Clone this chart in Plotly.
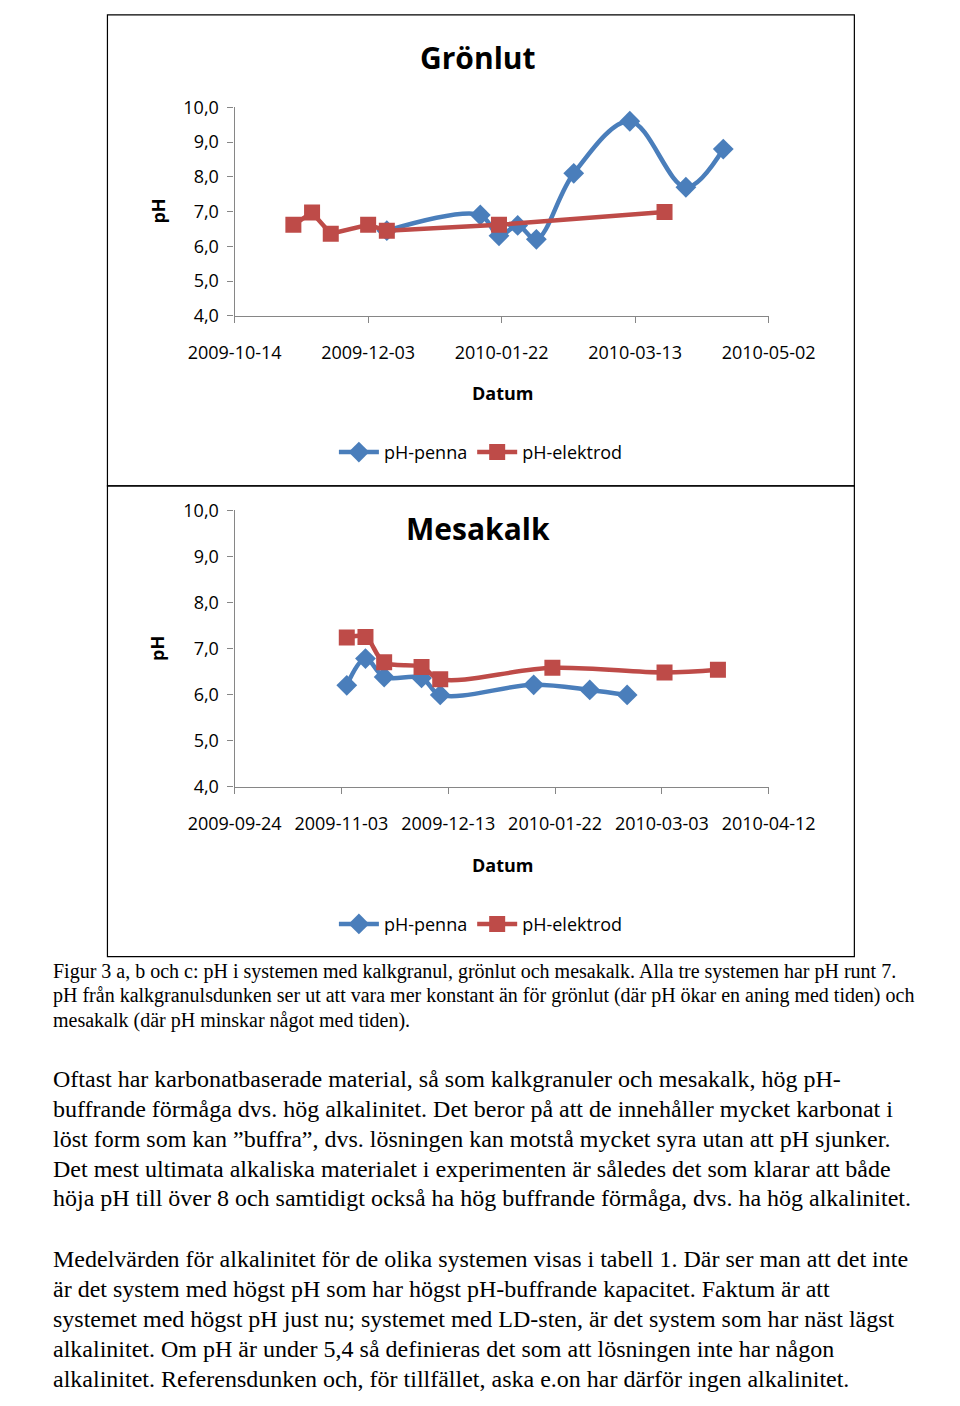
import plotly.graph_objects as go

W, H = 960, 1406

# ---------------- data ----------------
# Grönlut
gr_penna_dates = ["2009-12-10", "2010-01-14", "2010-01-21", "2010-01-28", "2010-02-04",
                  "2010-02-18", "2010-03-11", "2010-04-01", "2010-04-15"]
gr_penna_ph = [6.45, 6.90, 6.30, 6.60, 6.20, 8.10, 9.60, 7.70, 8.80]
gr_elek_dates = ["2009-11-05", "2009-11-12", "2009-11-19", "2009-12-03", "2009-12-10",
                 "2010-01-21", "2010-03-24"]
gr_elek_ph = [6.62, 6.97, 6.36, 6.62, 6.45, 6.62, 6.99]
gr_xticks = ["2009-10-14", "2009-12-03", "2010-01-22", "2010-03-13", "2010-05-02"]

# Mesakalk
me_penna_dates = ["2009-11-05", "2009-11-12", "2009-11-19", "2009-12-03", "2009-12-10",
                  "2010-01-14", "2010-02-04", "2010-02-18"]
me_penna_ph = [6.20, 6.78, 6.38, 6.36, 5.99, 6.21, 6.10, 5.99]
me_elek_dates = ["2009-11-05", "2009-11-12", "2009-11-19", "2009-12-03", "2009-12-10",
                 "2010-01-21", "2010-03-04", "2010-03-24"]
me_elek_ph = [7.24, 7.25, 6.70, 6.60, 6.33, 6.58, 6.48, 6.54]
me_xticks = ["2009-09-24", "2009-11-03", "2009-12-13", "2010-01-22", "2010-03-03", "2010-04-12"]

y_ticks = [4, 5, 6, 7, 8, 9, 10]
y_ticktext = ["4,0", "5,0", "6,0", "7,0", "8,0", "9,0", "10,0"]

caption_lines = [
    "Figur 3 a, b och c: pH i systemen med kalkgranul, grönlut och mesakalk. Alla tre systemen har pH runt 7.",
    "pH från kalkgranulsdunken ser ut att vara mer konstant än för grönlut (där pH ökar en aning med tiden) och",
    "mesakalk (där pH minskar något med tiden).",
]
body_lines = [
    "Oftast har karbonatbaserade material, så som kalkgranuler och mesakalk, hög pH-",
    "buffrande förmåga dvs. hög alkalinitet. Det beror på att de innehåller mycket karbonat i",
    "löst form som kan ”buffra”, dvs. lösningen kan motstå mycket syra utan att pH sjunker.",
    "Det mest ultimata alkaliska materialet i experimenten är således det som klarar att både",
    "höja pH till över 8 och samtidigt också ha hög buffrande förmåga, dvs. ha hög alkalinitet.",
    "",
    "Medelvärden för alkalinitet för de olika systemen visas i tabell 1. Där ser man att det inte",
    "är det system med högst pH som har högst pH-buffrande kapacitet. Faktum är att",
    "systemet med högst pH just nu; systemet med LD-sten, är det system som har näst lägst",
    "alkalinitet. Om pH är under 5,4 så definieras det som att lösningen inte har någon",
    "alkalinitet. Referensdunken och, för tillfället, aska e.on har därför ingen alkalinitet.",
]

BLUE = "#4A7EBB"
RED = "#BE4B48"
AXIS = "#868686"
SANS = "Open Sans"
SERIF = "Liberation Serif"


def px(x):
    return x / W


def py(y):
    return 1 - y / H


fig = go.Figure()

# Grönlut traces
fig.add_trace(go.Scatter(x=gr_penna_dates, y=gr_penna_ph, name="pH-penna", mode="lines+markers",
                         line=dict(color=BLUE, width=4.5, shape="spline", smoothing=1.0),
                         marker=dict(symbol="diamond", size=16, color=BLUE),
                         xaxis="x", yaxis="y", legend="legend"))
fig.add_trace(go.Scatter(x=gr_elek_dates, y=gr_elek_ph, name="pH-elektrod", mode="lines+markers",
                         line=dict(color=RED, width=4.5),
                         marker=dict(symbol="square", size=16, color=RED),
                         xaxis="x", yaxis="y", legend="legend"))
# Mesakalk traces
fig.add_trace(go.Scatter(x=me_penna_dates, y=me_penna_ph, name="pH-penna", mode="lines+markers",
                         line=dict(color=BLUE, width=4.5, shape="spline", smoothing=1.0),
                         marker=dict(symbol="diamond", size=16, color=BLUE),
                         xaxis="x2", yaxis="y2", legend="legend2"))
fig.add_trace(go.Scatter(x=me_elek_dates, y=me_elek_ph, name="pH-elektrod", mode="lines+markers",
                         line=dict(color=RED, width=4.5, shape="spline", smoothing=1.0),
                         marker=dict(symbol="square", size=16, color=RED),
                         xaxis="x2", yaxis="y2", legend="legend2"))

tickfont = dict(family=SANS, size=18, color="#000000")
common_x = dict(type="date", showline=True, linecolor=AXIS, linewidth=1.3, ticks="outside",
                ticklen=6, tickcolor=AXIS, tickwidth=1.3, showgrid=False, zeroline=False,
                tickfont=tickfont, ticklabelstandoff=15)
common_y = dict(showline=True, linecolor=AXIS, linewidth=1.3, ticks="outside", ticklen=6,
                tickcolor=AXIS, tickwidth=1.3, showgrid=False, zeroline=False, tickfont=tickfont,
                range=[4, 10], tickvals=y_ticks, ticktext=y_ticktext, ticklabelstandoff=5)

fig.update_layout(
    width=W, height=H, autosize=False,
    margin=dict(l=0, r=0, t=0, b=0),
    paper_bgcolor="white", plot_bgcolor="white",
    xaxis=dict(common_x, domain=[px(208), px(800)], range=[gr_xticks[0], gr_xticks[-1]],
               tickvals=gr_xticks, ticktext=gr_xticks, anchor="y"),
    yaxis=dict(common_y, domain=[py(308), py(96)], anchor="x"),
    xaxis2=dict(common_x, domain=[px(208), px(800)], range=[me_xticks[0], me_xticks[-1]],
                tickvals=me_xticks, ticktext=me_xticks, anchor="y2"),
    yaxis2=dict(common_y, domain=[py(787), py(506)], anchor="x2"),
    legend=dict(orientation="h", x=px(481), xanchor="center", y=py(447), yanchor="middle",
                font=dict(family=SANS, size=18, color="#000000"), bgcolor="rgba(0,0,0,0)",
                itemwidth=40, tracegroupgap=0),
    legend2=dict(orientation="h", x=px(481), xanchor="center", y=py(927), yanchor="middle",
                 font=dict(family=SANS, size=18, color="#000000"), bgcolor="rgba(0,0,0,0)",
                 itemwidth=40, tracegroupgap=0),
    showlegend=True,
)

shapes = [
    dict(type="rect", xref="paper", yref="paper", x0=px(67), x1=px(895), y0=py(481), y1=py(2),
         line=dict(color="#000000", width=1.2), fillcolor="rgba(0,0,0,0)", layer="below"),
    dict(type="rect", xref="paper", yref="paper", x0=px(67), x1=px(895), y0=py(960), y1=py(481),
         line=dict(color="#000000", width=1.2), fillcolor="rgba(0,0,0,0)", layer="below"),
]
fig.update_layout(shapes=shapes)

ann = []
# titles
ann.append(dict(text="<b>Grönlut</b>", x=px(478), y=py(45), xref="paper", yref="paper",
                showarrow=False, xanchor="center", yanchor="middle",
                font=dict(family=SANS, size=30, color="#000000")))
ann.append(dict(text="<b>Mesakalk</b>", x=px(478), y=py(524), xref="paper", yref="paper",
                showarrow=False, xanchor="center", yanchor="middle",
                font=dict(family=SANS, size=30, color="#000000")))
# axis titles
for yy in (387, 867):
    ann.append(dict(text="<b>Datum</b>", x=px(505), y=py(yy), xref="paper", yref="paper",
                    showarrow=False, xanchor="center", yanchor="middle",
                    font=dict(family=SANS, size=18, color="#000000")))
for yy in (202, 647):
    ann.append(dict(text="<b>pH</b>", x=px(122), y=py(yy), xref="paper", yref="paper",
                    showarrow=False, xanchor="center", yanchor="middle", textangle=-90,
                    font=dict(family=SANS, size=18, color="#000000")))
# caption
cap_y = [975, 1000, 1025]
for t, yy in zip(caption_lines, cap_y):
    ann.append(dict(text=t, x=px(4), y=py(yy), xref="paper", yref="paper", showarrow=False,
                    xanchor="left", yanchor="middle",
                    font=dict(family=SERIF, size=20, color="#000000")))
body_y = [1085, 1115, 1146, 1176, 1206, 1237, 1268, 1298, 1329, 1359, 1390]
for t, yy in zip(body_lines, body_y):
    if not t:
        continue
    ann.append(dict(text=t, x=px(4), y=py(yy), xref="paper", yref="paper", showarrow=False,
                    xanchor="left", yanchor="middle",
                    font=dict(family=SERIF, size=24, color="#000000")))
fig.update_layout(annotations=ann)

fig.write_html("out.html")
